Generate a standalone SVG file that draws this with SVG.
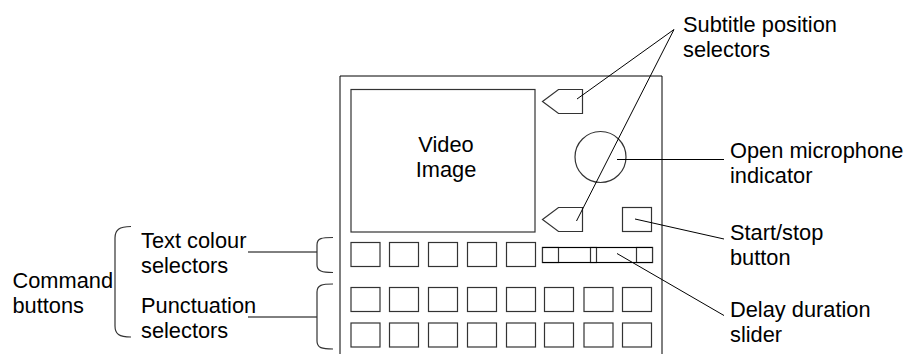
<svg xmlns="http://www.w3.org/2000/svg" width="905" height="354" viewBox="0 0 905 354">
<style>
.s{fill:#fff;stroke:#333;stroke-width:1.2}
.b{fill:none;stroke:#333;stroke-width:1.2}
.l{fill:none;stroke:#000;stroke-width:1}
text{font-family:"Liberation Sans",Arial,sans-serif;font-size:21.8px;fill:#000}
</style>
<rect width="905" height="354" fill="#fff"/>
<g id="frame"><path class="l" d="M340,354 V76 H662 V354"/></g>
<g id="video"><rect class="s" x="351" y="89.5" width="184" height="142.5"/>
<text x="446" y="152" text-anchor="middle">Video</text>
<text x="446" y="177" text-anchor="middle">Image</text></g>
<g id="subtitle-top"><polygon class="s" points="542.5,101.5 558.5,89.5 582.5,89.5 582.5,113.5 558.5,113.5"/></g>
<g id="subtitle-bottom"><polygon class="s" points="542.5,219.5 558.5,207.5 582.5,207.5 582.5,231.5 558.5,231.5"/></g>
<g id="mic"><circle class="s" cx="600.5" cy="157" r="25.5"/></g>
<g id="start-stop"><rect class="s" x="622.5" y="207.5" width="29" height="24"/></g>
<g id="slider">
<rect class="s" x="542.5" y="247.5" width="110" height="15"/>
<rect class="s" x="542.5" y="247.5" width="16" height="15"/>
<rect class="s" x="636.5" y="247.5" width="16" height="15"/>
<rect class="s" x="590.5" y="247.5" width="6" height="15"/>
<path class="l" d="M542.5,247.5 H652.5 M542.5,262.5 H652.5"/>
</g>
<g id="colour-buttons">
<rect class="s" x="351" y="242.5" width="29" height="24"/>
<rect class="s" x="389.5" y="242.5" width="29" height="24"/>
<rect class="s" x="428.5" y="242.5" width="29" height="24"/>
<rect class="s" x="467.5" y="242.5" width="29" height="24"/>
<rect class="s" x="506.5" y="242.5" width="29" height="24"/>
</g>
<g id="punctuation-buttons">
<rect class="s" x="351" y="287.5" width="29" height="24"/>
<rect class="s" x="389.5" y="287.5" width="29" height="24"/>
<rect class="s" x="428.5" y="287.5" width="29" height="24"/>
<rect class="s" x="467.5" y="287.5" width="29" height="24"/>
<rect class="s" x="506.5" y="287.5" width="29" height="24"/>
<rect class="s" x="544.5" y="287.5" width="29" height="24"/>
<rect class="s" x="584" y="287.5" width="29" height="24"/>
<rect class="s" x="622.5" y="287.5" width="29" height="24"/>
<rect class="s" x="351" y="323" width="29" height="24"/>
<rect class="s" x="389.5" y="323" width="29" height="24"/>
<rect class="s" x="428.5" y="323" width="29" height="24"/>
<rect class="s" x="467.5" y="323" width="29" height="24"/>
<rect class="s" x="506.5" y="323" width="29" height="24"/>
<rect class="s" x="544.5" y="323" width="29" height="24"/>
<rect class="s" x="584" y="323" width="29" height="24"/>
<rect class="s" x="622.5" y="323" width="29" height="24"/>
</g>
<g id="connectors">
<path class="l" d="M577,99 L674,29.5 L576.5,221"/>
<path class="l" d="M617,159.5 H724"/>
<path class="l" d="M635,219 L724,239"/>
<path class="l" d="M617,253.5 L724,315.5"/>
<path class="l" d="M248,252 H317 M248,317 H317"/>
<path class="b" d="M333,237.5 C322,237.5 317,238 317,245 V265 C317,271 322,272.5 333,272.5"/>
<path class="b" d="M333,284 C322,284 317,285 317,292 V341 C317,348 322,349 333,349"/>
<path class="b" d="M131,226.5 C119,226.5 115,230 115,238 V326 C115,334 119,337 131,337"/>
</g>
<g id="labels">
<text x="683" y="32">Subtitle position</text>
<text x="683" y="57">selectors</text>
<text x="730" y="158">Open microphone</text>
<text x="730" y="183">indicator</text>
<text x="730" y="240">Start/stop</text>
<text x="730" y="265">button</text>
<text x="730" y="316.5">Delay duration</text>
<text x="730" y="341.5">slider</text>
<text x="141" y="248">Text colour</text>
<text x="141" y="273">selectors</text>
<text x="141" y="313">Punctuation</text>
<text x="141" y="338">selectors</text>
<text x="12.5" y="288">Command</text>
<text x="12.5" y="313">buttons</text>
</g>
</svg>
